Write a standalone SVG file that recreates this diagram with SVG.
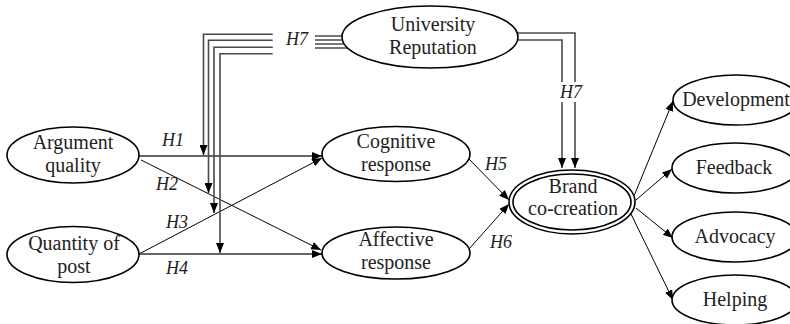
<svg xmlns="http://www.w3.org/2000/svg" width="790" height="324" viewBox="0 0 790 324">
<defs>
<marker id="ah" viewBox="0 0 10 8" refX="10" refY="4" markerWidth="10" markerHeight="8" markerUnits="userSpaceOnUse" orient="auto"><path d="M0,0 L10,4 L0,8 z" fill="#000"/></marker>
<style>
.node ellipse{fill:#fff;stroke:#000;stroke-width:1.6}
.lbl{font-family:"Liberation Serif","Times New Roman",serif;font-size:20px;fill:#222;text-anchor:middle}
.h{font-family:"Liberation Serif","Times New Roman",serif;font-size:18px;font-style:italic;fill:#222}
.ln{fill:none;stroke:#000;stroke-width:1}
.hz{fill:none;stroke:#333;stroke-width:1.4}
.mod{fill:none;stroke:#4a4a4a;stroke-width:1.6}
</style>
</defs>
<rect width="790" height="324" fill="#fff"/>
<g id="connectors">
<path class="hz" d="M139,156 H322" marker-end="url(#ah)"/>
<path class="ln" d="M141,160 L321,250" marker-end="url(#ah)"/>
<path class="ln" d="M139,254 L322,158" marker-end="url(#ah)"/>
<path class="hz" d="M139,254 H322" marker-end="url(#ah)"/>
<path class="ln" d="M469,159 L509,200" marker-end="url(#ah)"/>
<path class="ln" d="M469,249 L509,204" marker-end="url(#ah)"/>
<path class="ln" d="M634,196 L673,101" marker-end="url(#ah)"/>
<path class="ln" d="M636,200 L672,169" marker-end="url(#ah)"/>
<path class="ln" d="M636,208 L673,238" marker-end="url(#ah)"/>
<path class="ln" d="M631,214 L673,300" marker-end="url(#ah)"/>
<path class="mod" d="M272.7,34.3 H203.5 V155" marker-end="url(#ah)"/>
<path class="mod" d="M272.7,40.3 H208.5 V193" marker-end="url(#ah)"/>
<path class="mod" d="M272.7,47.3 H214 V213" marker-end="url(#ah)"/>
<path class="mod" d="M272.7,53.7 H220 V253" marker-end="url(#ah)"/>
<path class="mod" d="M315,36 H342 M315,40 H342.4 M315,44 H344.3 M315,48 H347.7"/>
<path class="mod" d="M516.5,33 H575 V82"/>
<path class="mod" d="M517.5,40 H562 V82"/>
<path class="mod" d="M575,102 V168" marker-end="url(#ah)"/>
<path class="mod" d="M562,102 V168" marker-end="url(#ah)"/>
<text class="h" x="162" y="146">H1</text>
<text class="h" x="156" y="190">H2</text>
<text class="h" x="166" y="228">H3</text>
<text class="h" x="166" y="274">H4</text>
<text class="h" x="485" y="170">H5</text>
<text class="h" x="490" y="248">H6</text>
<text class="h" x="286" y="45">H7</text>
<text class="h" x="560" y="98">H7</text>
</g>
<g id="university" class="node"><ellipse cx="430" cy="37" rx="88" ry="31"/><text class="lbl" x="433" y="31">University</text><text class="lbl" x="433" y="54">Reputation</text></g>
<g id="argument" class="node"><ellipse cx="73" cy="155" rx="66" ry="28"/><text class="lbl" x="73" y="149">Argument</text><text class="lbl" x="73" y="172">quality</text></g>
<g id="quantity" class="node"><ellipse cx="73" cy="254.5" rx="66" ry="28"/><text class="lbl" x="74" y="250">Quantity of</text><text class="lbl" x="74" y="273">post</text></g>
<g id="cognitive" class="node"><ellipse cx="396" cy="154" rx="74" ry="27.5"/><text class="lbl" x="396" y="148">Cognitive</text><text class="lbl" x="396" y="171">response</text></g>
<g id="affective" class="node"><ellipse cx="396" cy="253" rx="74" ry="26"/><text class="lbl" x="396" y="246">Affective</text><text class="lbl" x="396" y="269">response</text></g>
<g id="brand" class="node"><ellipse cx="572" cy="202" rx="63" ry="32"/><ellipse cx="572" cy="202" rx="59" ry="28"/><text class="lbl" x="573" y="193">Brand</text><text class="lbl" x="573" y="215">co-creation</text></g>
<g id="development" class="node"><ellipse cx="736" cy="100" rx="63" ry="25"/><text class="lbl" x="736" y="106">Development</text></g>
<g id="feedback" class="node"><ellipse cx="735" cy="168" rx="63" ry="25"/><text class="lbl" x="734" y="174">Feedback</text></g>
<g id="advocacy" class="node"><ellipse cx="735" cy="237" rx="63" ry="25"/><text class="lbl" x="735" y="243">Advocacy</text></g>
<g id="helping" class="node"><ellipse cx="735" cy="300" rx="63" ry="25"/><text class="lbl" x="735" y="306">Helping</text></g>
</svg>
